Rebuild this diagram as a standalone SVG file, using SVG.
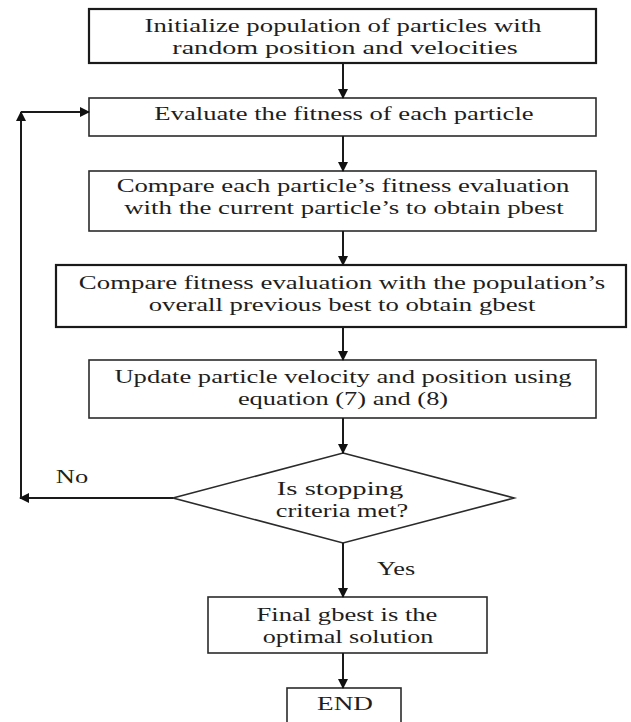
<svg xmlns="http://www.w3.org/2000/svg" width="631" height="722" viewBox="0 0 631 722">
<style>
  .box { fill: #ffffff; stroke: #2b2b2b; stroke-width: 1.6; }
  .thick { stroke-width: 2.2; stroke: #1a1a1a; }
  .lbl { font-family: "Liberation Serif", "Times New Roman", serif; font-size: 18px; fill: #1e1e1e; text-anchor: middle; }
  .edge { fill: none; stroke: #1a1a1a; stroke-width: 2; }
</style>
<defs>
  <marker id="ah" markerWidth="10" markerHeight="10" refX="9" refY="5" orient="auto" markerUnits="userSpaceOnUse">
    <path d="M0,0 L10,5 L0,10 Z" fill="#111111"/>
  </marker>
</defs>
<rect width="631" height="722" fill="#ffffff"/>

<g id="n1">
  <rect class="box thick" x="89" y="9" width="507" height="54"/>
  <text class="lbl" transform="translate(343,32) scale(1.47,1)" textLength="270" lengthAdjust="spacingAndGlyphs">Initialize population of particles with</text>
  <text class="lbl" transform="translate(345,54) scale(1.47,1)" textLength="235" lengthAdjust="spacingAndGlyphs">random position and velocities</text>
</g>
<g id="n2">
  <rect class="box" x="89" y="98" width="507" height="38"/>
  <text class="lbl" transform="translate(344,120) scale(1.47,1)" textLength="258" lengthAdjust="spacingAndGlyphs">Evaluate the fitness of each particle</text>
</g>
<g id="n3">
  <rect class="box" x="89" y="171" width="507" height="60"/>
  <text class="lbl" transform="translate(343,192) scale(1.47,1)" textLength="308" lengthAdjust="spacingAndGlyphs">Compare each particle’s fitness evaluation</text>
  <text class="lbl" transform="translate(344,214) scale(1.47,1)" textLength="299" lengthAdjust="spacingAndGlyphs">with the current particle’s to obtain pbest</text>
</g>
<g id="n4">
  <rect class="box thick" x="56" y="265" width="570" height="62"/>
  <text class="lbl" transform="translate(342,289) scale(1.47,1)" textLength="358" lengthAdjust="spacingAndGlyphs">Compare fitness evaluation with the population’s</text>
  <text class="lbl" transform="translate(342,311) scale(1.47,1)" textLength="263" lengthAdjust="spacingAndGlyphs">overall previous best to obtain gbest</text>
</g>
<g id="n5">
  <rect class="box" x="89" y="360" width="507" height="58"/>
  <text class="lbl" transform="translate(343,383) scale(1.47,1)" textLength="311" lengthAdjust="spacingAndGlyphs">Update particle velocity and position using</text>
  <text class="lbl" transform="translate(343,405) scale(1.47,1)" textLength="143" lengthAdjust="spacingAndGlyphs">equation (7) and (8)</text>
</g>
<g id="n6">
  <polygon class="box" points="343,453 514,498 343,543 173,498"/>
  <text class="lbl" transform="translate(340,495) scale(1.47,1)" textLength="86" lengthAdjust="spacingAndGlyphs">Is stopping</text>
  <text class="lbl" transform="translate(342,517) scale(1.47,1)" textLength="90" lengthAdjust="spacingAndGlyphs">criteria met?</text>
</g>
<g id="n7">
  <rect class="box" x="208" y="597" width="279" height="56"/>
  <text class="lbl" transform="translate(347,621) scale(1.47,1)" textLength="123" lengthAdjust="spacingAndGlyphs">Final gbest is the</text>
  <text class="lbl" transform="translate(348,643) scale(1.47,1)" textLength="116" lengthAdjust="spacingAndGlyphs">optimal solution</text>
</g>
<g id="n8">
  <rect class="box" x="287" y="688" width="114" height="50"/>
  <text class="lbl" transform="translate(345,710) scale(1.47,1)" textLength="38" lengthAdjust="spacingAndGlyphs">END</text>
</g>

<g id="connectors">
  <line class="edge" x1="343" y1="63" x2="343" y2="98" marker-end="url(#ah)"/>
  <line class="edge" x1="343" y1="136" x2="343" y2="171" marker-end="url(#ah)"/>
  <line class="edge" x1="343" y1="231" x2="343" y2="265" marker-end="url(#ah)"/>
  <line class="edge" x1="343" y1="327" x2="343" y2="360" marker-end="url(#ah)"/>
  <line class="edge" x1="343" y1="418" x2="343" y2="453" marker-end="url(#ah)"/>
  <line class="edge" x1="343" y1="543" x2="343" y2="597" marker-end="url(#ah)"/>
  <line class="edge" x1="343" y1="653" x2="343" y2="688" marker-end="url(#ah)"/>
  <line class="edge" x1="173" y1="498" x2="20" y2="498" marker-end="url(#ah)"/>
  <line class="edge" x1="21" y1="498" x2="21" y2="112" marker-end="url(#ah)"/>
  <line class="edge" x1="21" y1="112" x2="89" y2="112" marker-end="url(#ah)"/>
  <text class="lbl" transform="translate(72,483) scale(1.47,1)" textLength="22" lengthAdjust="spacingAndGlyphs">No</text>
  <text class="lbl" transform="translate(396,575) scale(1.47,1)" textLength="26" lengthAdjust="spacingAndGlyphs">Yes</text>
</g>
</svg>
